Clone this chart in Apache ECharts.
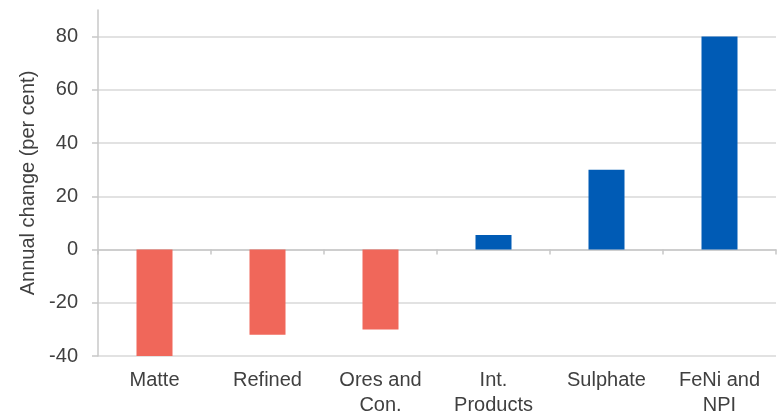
<!DOCTYPE html>
<html>
<head>
<meta charset="utf-8">
<script src="https://cdn.jsdelivr.net/npm/echarts@6/dist/echarts.min.js"></script>
<style>
  html, body { margin: 0; padding: 0; background: #fff; }
  #main { width: 780px; height: 417px; }
</style>
</head>
<body>
<div id="main"></div>
<script>
// categories and values
var categories = ["Matte", "Refined", "Ores and\nCon.", "Int.\nProducts", "Sulphate", "FeNi and\nNPI"];
var changes = [-40, -32, -30, 5.5, 30, 80];
var barColors = ["#F0675A", "#F0675A", "#F0675A", "#005BB5", "#005BB5", "#005BB5"];

var chart = echarts.init(document.getElementById("main"));
var option = {
  animation: false,
  textStyle: { fontFamily: "Liberation Sans, Arial, sans-serif" },
  grid: { left: 98, right: 4, top: 10, bottom: 61, outerBoundsMode: "none", containLabel: false },
  xAxis: [
    {
      // axis through zero, line and ticks only
      type: "category",
      data: categories,
      axisLine: { onZero: true, lineStyle: { color: "#c8c8c8", width: 1.5 } },
      axisTick: { show: true, length: 5, lineStyle: { color: "#c8c8c8", width: 1.5 } },
      axisLabel: { show: false }
    },
    {
      // labels at the bottom
      type: "category",
      data: categories,
      position: "bottom",
      axisLine: { show: false, onZero: false },
      axisTick: { show: false },
      axisLabel: {
        color: "#404040",
        fontSize: 20,
        lineHeight: 25,
        margin: 12,
        interval: 0
      }
    }
  ],
  yAxis: {
    type: "value",
    min: -40,
    max: 90,
    interval: 20,
    name: "Annual change (per cent)",
    nameLocation: "middle",
    nameGap: 57,
    nameTextStyle: { color: "#404040", fontSize: 20 },
    axisLine: { show: true, lineStyle: { color: "#c8c8c8", width: 1.5 } },
    axisTick: { show: true, length: 6, lineStyle: { color: "#c8c8c8", width: 1.5 } },
    axisLabel: { color: "#404040", fontSize: 20, margin: 20, showMaxLabel: false },
    splitLine: { show: true, showMaxLine: false, lineStyle: { color: "#d9d9d9", width: 1.5 } }
  },
  series: [
    {
      type: "bar",
      xAxisIndex: 0,
      barWidth: 36,
      data: changes.map(function (v, i) {
        return { value: v, itemStyle: { color: barColors[i] } };
      })
    }
  ]
};
chart.setOption(option);
</script>
</body>
</html>
